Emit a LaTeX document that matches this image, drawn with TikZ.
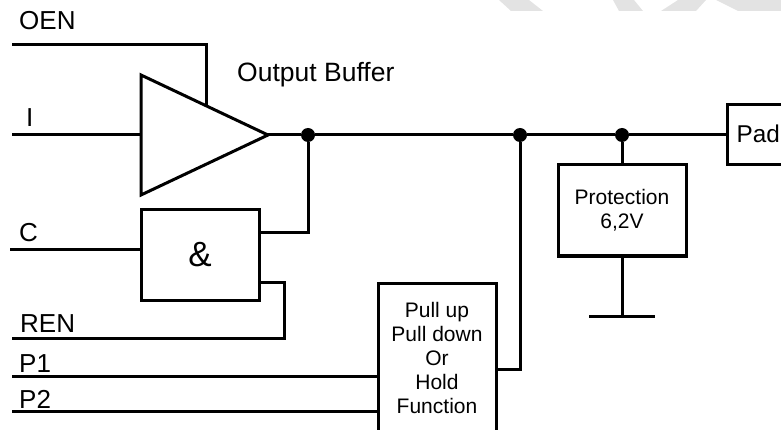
\documentclass[tikz,border=0pt]{standalone}
\usepackage{fontspec}
\setmainfont{Liberation Sans}
\usetikzlibrary{positioning,shapes.geometric}
\tikzset{
    wire/.style={line width=3pt, line join=miter},
    block/.style={draw, line width=3pt, inner sep=0pt, outer sep=0pt, align=center, font=\fontsize{21}{24}\selectfont},
    joint/.style={circle, fill=black, inner sep=0pt, minimum size=14pt},
    pinlabel/.style={anchor=base west, inner sep=0pt, font=\fontsize{26}{30}\selectfont},
    mark patch/.style={fill=black!11, draw=none}
}
\begin{document}
\begin{tikzpicture}[x=1pt, y=-1pt]
                \useasboundingbox (0,0) rectangle (781,430);
                \fill[mark patch] (499,0) -- (529,0) -- (543,11) -- (511,11) -- cycle;
                \fill[mark patch] (613,0) -- (634,0) -- (643,11) -- (619,11) -- cycle;
                \fill[mark patch] (678,0) -- (706,0) -- (696,11) -- (661,11) -- cycle;
                \fill[mark patch] (716,0) -- (781,0) -- (781,11) -- (738,11) -- cycle;
                \node [pinlabel] (oenlabel) at (19,30) {OEN};
                \node [pinlabel] (ilabel) at (26,127) {I};
                \node [pinlabel] (clabel) at (19,241) {C};
                \node [pinlabel] (renlabel) at (20,332) {REN};
                \node [pinlabel] (ponelabel) at (19,372) {P1};
                \node [pinlabel] (ptwolabel) at (19,408) {P2};
                \node [pinlabel, font=\fontsize{26.5}{30}\selectfont] (buflabel) at (237,82) {Output Buffer};
                \node [draw, line width=3pt, isosceles triangle, isosceles triangle apex angle=50.6, isosceles triangle stretches, minimum height=127pt, minimum width=120pt, inner sep=0pt, outer sep=0pt, anchor=apex] (buf) at (268,135) {};
                \node [block, minimum width=118pt, minimum height=90pt, font=\fontsize{35}{38}\selectfont] (andgate) at (200,255) {\&};
                \node [block, minimum width=118pt, minimum height=150pt] (pull) at (437,358) {Pull up\\Pull down\\Or\\Hold\\Function};
                \node [block, minimum width=128pt, minimum height=91pt] (prot) at (622,210.5) {Protection\\6,2V};
                \node [draw, line width=3pt, inner sep=0pt, outer sep=0pt, minimum width=90pt, minimum height=60pt] (padbox) at (772,135) {};
                \node [pinlabel, font=\fontsize{24.3}{30}\selectfont] (pad) at (736.5,143) {Pad};
                \node [joint] (jone) at (308,135) {};
                \node [joint] (jtwo) at (520,135) {};
                \node [joint] (jthree) at (622,135) {};
                \coordinate (oen) at (12,44.5);
                \coordinate (en) at (206,106);
                \coordinate (i) at (12,135);
                \coordinate (c) at (10,249.5);
                \coordinate (ren) at (12,338);
                \coordinate (pone) at (12,376);
                \coordinate (ptwo) at (12,411);
                \coordinate (gnd) at (622,316);
                \coordinate (gndl) at (589,316);
                \coordinate (gndr) at (655,316);
                \draw [wire] (oen) -| (en);
                \draw [wire] (i) -- (i -| buf.west);
                \draw [wire] (buf.apex) -- (jone) -- (jtwo) -- (jthree) -- (padbox.west);
                \draw [wire] (c) -- (c -| andgate.west);
                \draw [wire] (jone) |- (andgate.east |- 0,233);
                \draw [wire] (andgate.east |- 0,282) -| (284,338) -- (ren);
                \draw [wire] (pone) -- (pone -| pull.west);
                \draw [wire] (ptwo) -- (ptwo -| pull.west);
                \draw [wire] (pull.east |- 0,369) -| (jtwo);
                \draw [wire] (jthree) -- (prot.north);
                \draw [wire] (prot.south) -- (gnd);
                \draw [wire] (gndl) -- (gndr);
            \end{tikzpicture}
\end{document}
